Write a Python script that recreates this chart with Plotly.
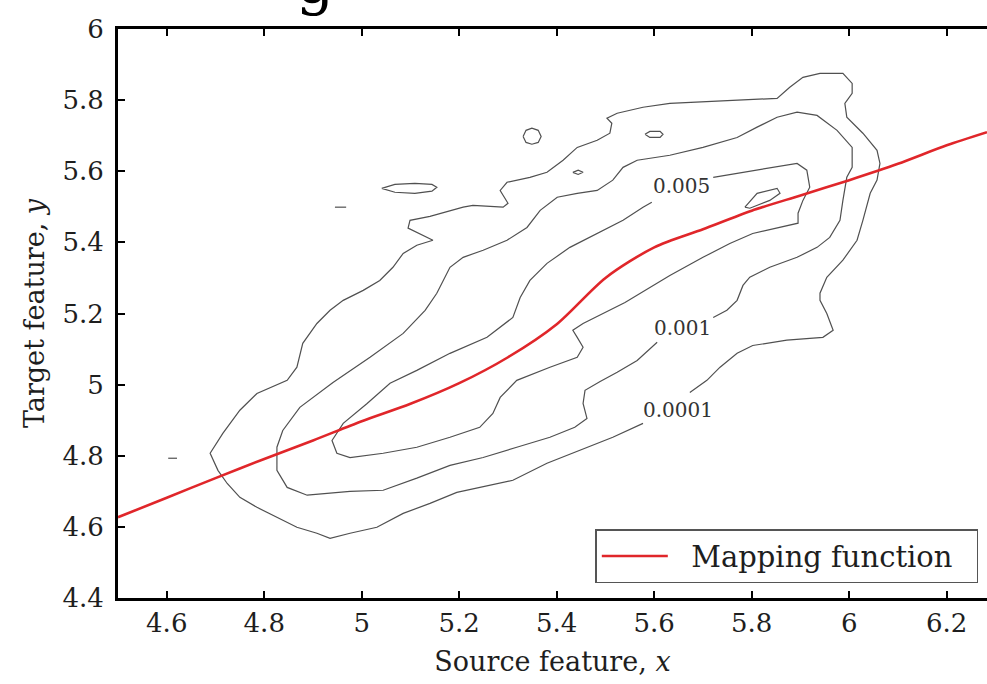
import plotly.graph_objects as go

# ---------------- data ----------------
x_tickvals = [4.6, 4.8, 5.0, 5.2, 5.4, 5.6, 5.8, 6.0, 6.2]
x_ticktext = ["4.6", "4.8", "5", "5.2", "5.4", "5.6", "5.8", "6", "6.2"]
y_tickvals = [4.4, 4.6, 4.8, 5.0, 5.2, 5.4, 5.6, 5.8, 6.0]
y_ticktext = ["4.4", "4.6", "4.8", "5", "5.2", "5.4", "5.6", "5.8", "6"]

# mapping function (red curve)
map_x = [4.5, 4.6, 4.7, 4.8, 4.9, 5.0, 5.1, 5.2, 5.3, 5.4, 5.5, 5.6, 5.7, 5.8,
         5.9, 6.0, 6.1, 6.2, 6.2826]
map_y = [4.627, 4.682, 4.737, 4.791, 4.843, 4.897, 4.946, 5.004, 5.077, 5.170,
         5.300, 5.386, 5.437, 5.489, 5.532, 5.575, 5.621, 5.673, 5.710]

# contour level 0.0001 (outer)
c0001_x = [5.673, 5.708, 5.735, 5.770, 5.802, 5.872, 5.946, 5.967, 5.954, 5.940,
           5.940, 5.954, 5.987, 6.016, 6.028, 6.043, 6.057, 6.063, 6.057, 6.028,
           5.995, 5.991, 6.006, 6.006, 5.987, 5.940, 5.905, 5.878, 5.852, 5.700,
           5.632, 5.577, 5.524, 5.503, 5.513, 5.509, 5.483, 5.442, 5.413, 5.380,
           5.345, 5.298, 5.284, 5.300, 5.290, 5.228, 5.208, 5.140, 5.099, 5.095,
           5.146, 5.113, 5.085, 5.064, 5.037, 5.003, 4.962, 4.935, 4.908, 4.879,
           4.867, 4.847, 4.785, 4.750, 4.715, 4.689, 4.705, 4.724, 4.750, 4.785,
           4.826, 4.867, 4.908, 4.935, 4.976, 5.031, 5.085, 5.140, 5.195, 5.242,
           5.310, 5.380, 5.448, 5.515, 5.577]
c0001_y = [4.978, 5.012, 5.049, 5.088, 5.110, 5.125, 5.133, 5.153, 5.200, 5.237,
           5.257, 5.302, 5.350, 5.406, 5.462, 5.538, 5.575, 5.622, 5.659, 5.707,
           5.752, 5.791, 5.819, 5.847, 5.875, 5.875, 5.864, 5.836, 5.805, 5.794,
           5.791, 5.780, 5.763, 5.749, 5.735, 5.707, 5.687, 5.667, 5.631, 5.597,
           5.583, 5.569, 5.546, 5.510, 5.499, 5.504, 5.499, 5.473, 5.462, 5.440,
           5.406, 5.392, 5.369, 5.330, 5.293, 5.265, 5.237, 5.209, 5.172, 5.116,
           5.049, 5.012, 4.975, 4.928, 4.863, 4.807, 4.759, 4.722, 4.683, 4.655,
           4.627, 4.599, 4.582, 4.568, 4.582, 4.599, 4.638, 4.666, 4.697, 4.711,
           4.731, 4.779, 4.815, 4.852, 4.891]

# contour level 0.001 (middle)
c001_x = [5.721, 5.749, 5.770, 5.782, 5.796, 5.837, 5.893, 5.934, 5.960, 5.981,
          5.987, 5.995, 6.006, 6.006, 5.975, 5.934, 5.893, 5.852, 5.811, 5.770,
          5.700, 5.632, 5.565, 5.536, 5.515, 5.483, 5.442, 5.401, 5.366, 5.339,
          5.298, 5.249, 5.208, 5.181, 5.154, 5.130, 5.085, 5.017, 4.941, 4.873,
          4.838, 4.826, 4.826, 4.847, 4.888, 4.935, 4.976, 5.044, 5.113, 5.181,
          5.249, 5.318, 5.386, 5.437, 5.462, 5.454, 5.458, 5.489, 5.524, 5.565,
          5.606]
c001_y = [5.189, 5.209, 5.237, 5.279, 5.302, 5.330, 5.358, 5.386, 5.414, 5.462,
          5.518, 5.583, 5.611, 5.667, 5.715, 5.757, 5.766, 5.752, 5.724, 5.695,
          5.667, 5.645, 5.631, 5.611, 5.575, 5.546, 5.538, 5.527, 5.490, 5.442,
          5.406, 5.378, 5.358, 5.330, 5.257, 5.209, 5.144, 5.077, 5.006, 4.936,
          4.871, 4.824, 4.759, 4.711, 4.689, 4.694, 4.700, 4.703, 4.737, 4.773,
          4.795, 4.824, 4.852, 4.880, 4.905, 4.947, 4.984, 5.009, 5.035, 5.068,
          5.119]

# contour level 0.005 (inner)
c005_x = [5.721, 5.770, 5.837, 5.893, 5.913, 5.919, 5.905, 5.895, 5.895, 5.858,
          5.802, 5.755, 5.700, 5.632, 5.577, 5.540, 5.454, 5.433, 5.442, 5.454,
          5.442, 5.386, 5.318, 5.284, 5.269, 5.242, 5.181, 5.113, 5.044, 4.976,
          4.949, 4.939, 4.962, 5.011, 5.058, 5.113, 5.181, 5.257, 5.310, 5.325,
          5.345, 5.380, 5.427, 5.483, 5.536, 5.577, 5.595]
c005_y = [5.583, 5.594, 5.611, 5.622, 5.603, 5.555, 5.518, 5.482, 5.454, 5.442,
          5.425, 5.397, 5.358, 5.307, 5.262, 5.231, 5.172, 5.153, 5.133, 5.105,
          5.077, 5.049, 5.012, 4.964, 4.919, 4.880, 4.852, 4.824, 4.807, 4.795,
          4.807, 4.843, 4.891, 4.947, 5.004, 5.040, 5.088, 5.133, 5.189, 5.245,
          5.293, 5.341, 5.386, 5.425, 5.462, 5.499, 5.513]

# small closed islands of the density contours
island_a_x = [5.786, 5.811, 5.852, 5.858, 5.837, 5.796, 5.786]
island_a_y = [5.499, 5.538, 5.552, 5.538, 5.518, 5.496, 5.499]
island_b_x = [5.041, 5.068, 5.109, 5.144, 5.154, 5.144, 5.109, 5.068, 5.041]
island_b_y = [5.552, 5.563, 5.566, 5.563, 5.555, 5.544, 5.538, 5.541, 5.552]
island_c_x = [4.945, 4.968]
island_c_y = [5.499, 5.499]
island_d_x = [4.603, 4.621]
island_d_y = [4.793, 4.793]
island_e_x = [5.331, 5.337, 5.349, 5.362, 5.368, 5.362, 5.349, 5.337, 5.331]
island_e_y = [5.698, 5.715, 5.721, 5.715, 5.698, 5.681, 5.676, 5.681, 5.698]
island_f_x = [5.581, 5.591, 5.599, 5.612, 5.618, 5.612, 5.599, 5.591, 5.581]
island_f_y = [5.704, 5.712, 5.712, 5.712, 5.704, 5.695, 5.695, 5.695, 5.704]
island_g_x = [5.433, 5.444, 5.454, 5.444, 5.433]
island_g_y = [5.597, 5.603, 5.597, 5.591, 5.597]

contour_labels = ["0.005", "0.001", "0.0001"]
label_x = [5.655, 5.657, 5.649]
label_y = [5.558, 5.158, 4.928]

series_name = "Mapping function"

# ---------------- figure ----------------
SERIF = "DejaVu Serif, Liberation Serif, serif"
CONTOUR_COLOR = "#505050"
TEXT_COLOR = "#1e1e1e"
NBSP = "\u00a0"

fig = go.Figure()

contours = [
    (c0001_x, c0001_y), (c001_x, c001_y), (c005_x, c005_y),
    (island_a_x, island_a_y), (island_b_x, island_b_y), (island_c_x, island_c_y),
    (island_d_x, island_d_y), (island_e_x, island_e_y), (island_f_x, island_f_y),
    (island_g_x, island_g_y),
]
for cx, cy in contours:
    fig.add_trace(go.Scatter(
        x=cx, y=cy, mode="lines",
        line=dict(color=CONTOUR_COLOR, width=1.2),
        showlegend=False, hoverinfo="skip",
    ))

fig.add_trace(go.Scatter(
    x=map_x, y=map_y, mode="lines",
    name=NBSP * 2 + series_name + NBSP * 2,
    line=dict(color="#e0262a", width=2.6, shape="spline", smoothing=0.8),
))

for t, lx, ly in zip(contour_labels, label_x, label_y):
    fig.add_annotation(x=lx, y=ly, xref="x", yref="y", text=t, showarrow=False,
                       font=dict(family=SERIF, size=20, color="#333333"))

# clipped fragment of a title above the figure
fig.add_annotation(x=0.227, y=1.017, xref="paper", yref="paper", text="g",
                   showarrow=False, xanchor="center", yanchor="bottom",
                   font=dict(family=SERIF, size=60, color="black"))

axis_common = dict(
    showgrid=False, zeroline=False, showline=True, linecolor="black", linewidth=3,
    ticks="inside", ticklen=7, tickwidth=2, tickcolor="black",
    tickfont=dict(family=SERIF, size=26, color=TEXT_COLOR),
)

fig.update_xaxes(
    range=[4.5, 6.2826], tickvals=x_tickvals, ticktext=x_ticktext,
    mirror="ticks", ticklabelstandoff=0,
    title=dict(text="Source feature, <i>x</i>", standoff=15,
               font=dict(family=SERIF, size=27, color=TEXT_COLOR)),
    **axis_common,
)
fig.update_yaxes(
    range=[4.4, 6.0], tickvals=y_tickvals, ticktext=y_ticktext,
    mirror=False, ticklabelstandoff=6,
    title=dict(text="Target feature, <i>y</i>", standoff=10,
               font=dict(family=SERIF, size=27, color=TEXT_COLOR)),
    **axis_common,
)

fig.update_layout(
    width=987, height=684,
    margin=dict(l=118, r=0, t=29, b=86, autoexpand=False),
    plot_bgcolor="white", paper_bgcolor="white",
    font=dict(family=SERIF, color=TEXT_COLOR),
    legend=dict(
        x=0.99, y=0.026, xanchor="right", yanchor="bottom",
        bgcolor="white", bordercolor="#555555", borderwidth=1.5,
        font=dict(family=SERIF, size=29, color=TEXT_COLOR),
        itemwidth=66,
    ),
    showlegend=True,
)

fig.write_html("out.html", config={"displayModeBar": False},
               post_script="document.body.style.margin='0px';")
